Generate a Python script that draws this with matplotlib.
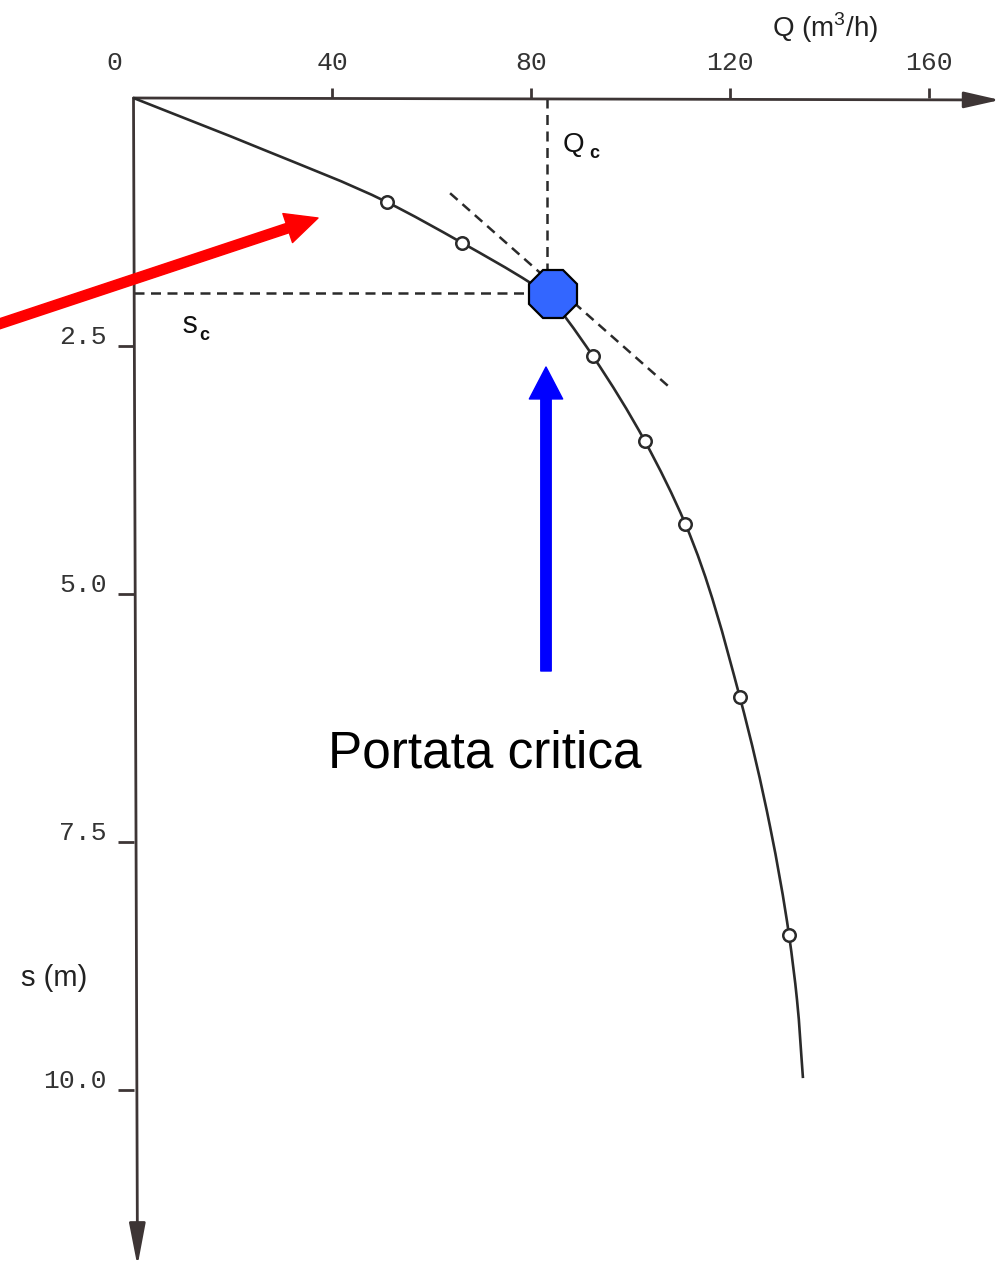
import matplotlib
matplotlib.use("Agg")
import matplotlib.pyplot as plt
from matplotlib.path import Path
from matplotlib.patches import PathPatch

# Pumping test: discharge Q (m3/h) against drawdown s (m)
q_obs = [51.0, 66.1, 92.4, 102.9, 111.0, 122.0, 131.9]
s_obs = [1.05, 1.46, 2.60, 3.46, 4.29, 6.04, 8.44]

# Characteristic curve traced through the measurements
q_curve = [0.0, 26.1, 51.0, 66.1, 79.9, 83.1, 87.2, 92.4, 102.9, 111.0,
           122.0, 128.1, 131.9, 133.5, 134.7]
s_curve = [0.0, 0.52, 1.05, 1.46, 1.865, 1.97, 2.23, 2.60, 3.46, 4.29,
           6.04, 7.35, 8.44, 9.09, 9.88]

# Critical discharge / drawdown and tangent at the knee
q_crit, s_crit = 83.1, 1.97
q_marker, s_marker = 84.5, 1.98
q_tan = [63.7, 108.4]
s_tan = [0.96, 2.94]

q_ticks = [40, 80, 120, 160]
q_ticklabels = ["40", "80", "120", "160"]
s_ticks = [2.5, 5.0, 7.5, 10.0]
s_ticklabels = ["2.5", "5.0", "7.5", "10.0"]

W, H = 1000, 1266
X0, KX = 133.5, 4.97      # pixel of Q=0, pixels per m3/h
Y0, KY = 98.0, 99.2       # pixel of s=0, pixels per m


def qx(px):
    return (px - X0) / KX


def sy(py):
    return (py - Y0) / KY


def smooth_path(xs, ys):
    """Cubic Bezier path through every node (Bessel tangents, pixel metric)."""
    n = len(xs)
    pts = [(x * KX, y * KY) for x, y in zip(xs, ys)]

    def sub(a, b):
        return (a[0] - b[0], a[1] - b[1])

    def norm(v):
        return (v[0] ** 2 + v[1] ** 2) ** 0.5

    tang = []
    for i in range(n):
        if i == 0:
            v = sub(pts[1], pts[0])
            d = norm(v)
            tang.append((v[0] / d, v[1] / d))
        elif i == n - 1:
            v = sub(pts[-1], pts[-2])
            d = norm(v)
            tang.append((v[0] / d, v[1] / d))
        else:
            v0 = sub(pts[i], pts[i - 1])
            v1 = sub(pts[i + 1], pts[i])
            d0, d1 = norm(v0), norm(v1)
            w0, w1 = d1 / (d0 + d1), d0 / (d0 + d1)
            t = (w0 * v0[0] / d0 + w1 * v1[0] / d1,
                 w0 * v0[1] / d0 + w1 * v1[1] / d1)
            d = norm(t)
            tang.append((t[0] / d, t[1] / d))
    verts = [pts[0]]
    codes = [Path.MOVETO]
    for i in range(n - 1):
        p, q = pts[i], pts[i + 1]
        h = norm(sub(q, p)) / 3.0
        verts += [(p[0] + tang[i][0] * h, p[1] + tang[i][1] * h),
                  (q[0] - tang[i + 1][0] * h, q[1] - tang[i + 1][1] * h),
                  q]
        codes += [Path.CURVE4] * 3
    verts = [(x / KX, y / KY) for x, y in verts]
    return Path(verts, codes)


plt.rcParams["mathtext.fontset"] = "custom"
plt.rcParams["mathtext.rm"] = "Liberation Sans"
plt.rcParams["mathtext.bf"] = "Liberation Sans:bold"

fig = plt.figure(figsize=(W / 100, H / 100), dpi=100)
fig.patch.set_facecolor("white")
ax = fig.add_axes([0, 0, 1, 1])
ax.set_xlim(qx(0), qx(W))
ax.set_ylim(sy(H), sy(0))
ax.axis("off")

axis_col = "#3d3535"
ink = "#2a2a2a"
mono = "Liberation Mono"
sans = "Liberation Sans"

# Axes with arrowheads
ax.annotate("", xy=(qx(1000), 0.02), xytext=(0, 0),
            arrowprops=dict(arrowstyle="-|>,head_length=22,head_width=5",
                            mutation_scale=1, lw=2.0, color=axis_col,
                            shrinkA=0, shrinkB=0))
ax.annotate("", xy=(0.8, sy(1266)), xytext=(0, 0),
            arrowprops=dict(arrowstyle="-|>,head_length=26,head_width=5",
                            mutation_scale=1, lw=2.0, color=axis_col,
                            shrinkA=0, shrinkB=0))

# Tick marks
ax.plot(q_ticks, [0] * len(q_ticks), linestyle="none", marker=2,
        markersize=7.5, mew=2.0, color=axis_col)
ax.plot([0] * len(s_ticks), s_ticks, linestyle="none", marker=0,
        markersize=11.5, mew=2.0, color=axis_col)

# Tick labels
for q, lab in zip(q_ticks, q_ticklabels):
    ax.annotate(lab, xy=(q, 0), xytext=(0, 28), textcoords="offset pixels",
                ha="center", va="baseline", fontsize=19, family=mono,
                color="#333333")
ax.annotate("0", xy=(0, 0), xytext=(-19, 28), textcoords="offset pixels",
            ha="center", va="baseline", fontsize=19, family=mono,
            color="#333333")
for s, lab in zip(s_ticks, s_ticklabels):
    ax.annotate(lab, xy=(0, s), xytext=(-27, 2), textcoords="offset pixels",
                ha="right", va="baseline", fontsize=19, family=mono,
                color="#333333")

# Axis titles
ax.text(qx(825), sy(37), r"Q (m$^{3}$/h)", ha="center", va="baseline",
        fontsize=20, family=sans, color="#222222")
ax.text(qx(54), sy(986), "s (m)", ha="center", va="baseline",
        fontsize=21, family=sans, color="#222222")

# Construction lines for the critical point
dash = (4, 2.6)
ax.plot([q_crit, q_crit], [0, s_crit], color=ink, lw=1.8, dashes=dash, zorder=2)
ax.plot([0, q_crit], [s_crit, s_crit], color=ink, lw=1.8, dashes=dash, zorder=2)
ax.plot(q_tan, s_tan, color=ink, lw=1.8, dashes=dash, zorder=2)

ax.text(qx(563), sy(152), "Q", ha="left", va="baseline", fontsize=20,
        family=sans, color="#111111")
ax.text(qx(589), sy(158), "c", ha="left", va="baseline", fontsize=13,
        family=sans, weight="bold", color="#111111")
ax.text(qx(181), sy(333), "s", ha="left", va="baseline", fontsize=22,
        family=mono, color="#111111")
ax.text(qx(199), sy(340), "c", ha="left", va="baseline", fontsize=13,
        family=sans, weight="bold", color="#111111")

# Curve and measured points
ax.add_patch(PathPatch(smooth_path(q_curve, s_curve), facecolor="none",
                       edgecolor=ink, lw=1.9, zorder=3))
ax.plot(q_obs, s_obs, linestyle="none", marker="o", markersize=9,
        mfc="white", mec=ink, mew=1.8, zorder=4)

# Critical point marker
ax.plot([q_marker], [s_marker], linestyle="none", marker="8",
        markersize=37, mfc="#3366ff", mec="black", mew=1.6, zorder=5)

# Annotation arrows
ax.annotate("", xy=(qx(318), sy(218)), xytext=(qx(-10), sy(327)),
            arrowprops=dict(width=7, headwidth=22, headlength=23,
                            color="#ff0000", shrink=0), zorder=6)
ax.annotate("", xy=(qx(546), sy(367)), xytext=(qx(546), sy(671)),
            arrowprops=dict(width=7.5, headwidth=24, headlength=23,
                            color="#0000ff", shrink=0), zorder=6)

ax.text(qx(485), sy(768), "Portata critica", ha="center", va="baseline",
        fontsize=37, family=sans, color="black")

fig.savefig("out.png", dpi=100, facecolor="white")
